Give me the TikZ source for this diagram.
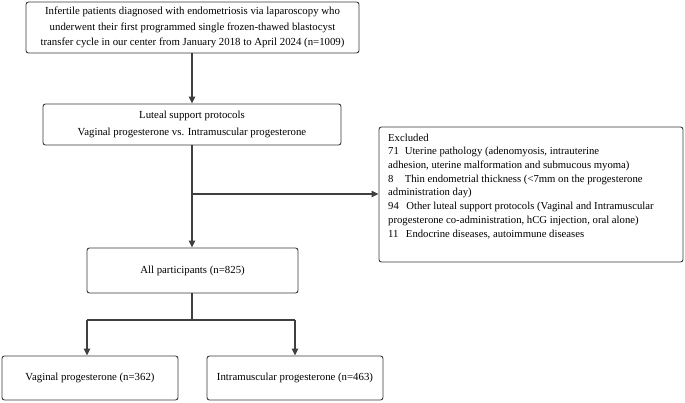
\documentclass[tikz,border=0pt]{standalone}
\usepackage{fontspec}
\setmainfont{Liberation Serif}
\usetikzlibrary{arrows.meta}
\definecolor{boxc}{HTML}{3A3A3A}
\definecolor{linec}{HTML}{3F3F3F}
\tikzset{
  box/.style={draw=boxc, line width=0.9pt, rounded corners=2.5pt, inner sep=0pt, fill=white,
    font=\fontsize{10.8}{15.5}\selectfont, text=black},
  link/.style={draw=linec, line width=1.3pt, -{Triangle[length=7pt,width=6.5pt]}},
  plain/.style={draw=linec, line width=1.3pt}
}
\begin{document}
\begin{tikzpicture}[x=1pt,y=-1pt]
\useasboundingbox (0,0) rectangle (685,403);
\node[box, minimum width=333pt, minimum height=51pt, align=center] (b1) at (192.5,27.5)
  {Infertile patients diagnosed with endometriosis via laparoscopy who\\
   underwent their first programmed single frozen-thawed blastocyst\\
   transfer cycle in our center from January 2018 to April 2024 (n=1009)};
\node[box, minimum width=298pt, minimum height=41pt, align=center, font=\fontsize{10.8}{17}\selectfont] (b2) at (192,124.5)
  {Luteal support protocols\\ Vaginal progesterone vs. Intramuscular progesterone};
\node[box, minimum width=304pt, minimum height=135pt] (ex) at (531,194.5) {};
\node[anchor=north west, inner sep=0pt, align=left, font=\fontsize{10.7}{13.7}\selectfont] (extext) at (388,133.5)
  {Excluded\\
   71\hspace{0.55em}Uterine pathology (adenomyosis, intrauterine\\
   adhesion, uterine malformation and submucous myoma)\\
   8\hspace{1.05em}Thin endometrial thickness (<7mm on the progesterone\\
   administration day)\\
   94\hspace{0.7em}Other luteal support protocols (Vaginal and Intramuscular\\
   progesterone co-administration, hCG injection, oral alone)\\
   11\hspace{0.7em}Endocrine diseases, autoimmune diseases};
\node[box, minimum width=211pt, minimum height=45pt] (ap) at (192.5,270.5) {All participants (n=825)};
\node[box, minimum width=176pt, minimum height=44pt] (vag) at (90,378) {Vaginal progesterone (n=362)};
\node[box, minimum width=176pt, minimum height=44pt] (im) at (295,378) {Intramuscular progesterone (n=463)};
\draw[link] (b1.south -| b2.north) -- (b2.north);
\draw[link] (b2.south) -- (b2.south |- ap.north);
\coordinate (br) at (192,194);
\draw[link] (br) -- (br -| ex.west);
\coordinate (sp) at (192,320);
\coordinate (vl) at (87,320);
\coordinate (vr) at (295,320);
\draw[plain] (ap.south -| sp) -- (sp);
\draw[plain] (vl) -- (vr);
\draw[link] (vl) -- (vl |- vag.north);
\draw[link] (vr) -- (vr |- im.north);
\end{tikzpicture}
\end{document}
